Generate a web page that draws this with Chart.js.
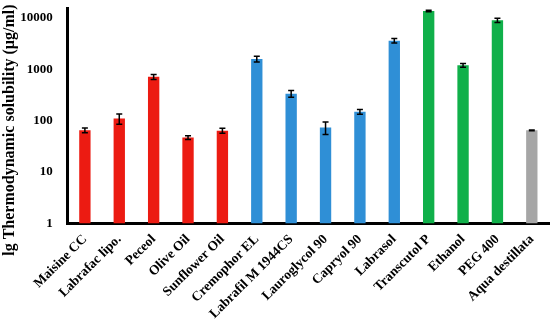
<!DOCTYPE html>
<html>
<head>
<meta charset="utf-8">
<script src="https://cdn.jsdelivr.net/npm/chart.js@4"></script>
<style>
  html, body { margin: 0; padding: 0; background: #fff; }
  #wrap { width: 550px; height: 322px; }
</style>
</head>
<body>
<div id="wrap"><canvas id="solChart"></canvas></div>
<script>
/* ---- Data ---- */
const excipients = [
  "Maisine CC", "Labrafac lipo.", "Peceol", "Olive Oil", "Sunflower Oil",
  "Cremophor EL", "Labrafil M 1944CS", "Lauroglycol 90", "Capryol 90",
  "Labrasol", "Transcutol P", "Ethanol", "PEG 400", "Aqua destillata"
];
const solubility = [65, 110, 715, 47, 64, 1590, 336, 74, 149, 3600, 13600, 1200, 9000, 65];
const solubilityErr = [7, 25, 80, 4, 7, 200, 50, 20, 16, 350, 500, 100, 850, 1];
const yTicks = [1, 10, 100, 1000, 10000];

/* ---- Colours per group ---- */
const palette = {
  oil:     "#ec1b12",
  surf:    "#2f8fd6",
  solvent: "#10b04a",
  water:   "#a6a6a6"
};
const barColors = [
  palette.oil, palette.oil, palette.oil, palette.oil, palette.oil,
  palette.surf, palette.surf, palette.surf, palette.surf, palette.surf,
  palette.solvent, palette.solvent, palette.solvent,
  palette.water
];

const serif = "'Liberation Serif', 'Times New Roman', serif";

// draws the +/- error whiskers on top of each bar
const errorBars = {
  id: "errorBars",
  afterDatasetsDraw(chart) {
    const { ctx, scales: { y } } = chart;
    const meta = chart.getDatasetMeta(0);
    ctx.save();
    ctx.strokeStyle = "#000";
    ctx.lineWidth = 1.5;
    meta.data.forEach((bar, i) => {
      const v = solubility[i], e = solubilityErr[i];
      const top = y.getPixelForValue(v + e);
      const bot = y.getPixelForValue(Math.max(v - e, 1));
      const x = bar.x, cap = 3;
      ctx.beginPath();
      ctx.moveTo(x, top); ctx.lineTo(x, bot);
      ctx.moveTo(x - cap, top); ctx.lineTo(x + cap, top);
      ctx.moveTo(x - cap, bot); ctx.lineTo(x + cap, bot);
      ctx.stroke();
    });
    ctx.restore();
  }
};

new Chart(document.getElementById("solChart"), {
  type: "bar",
  data: {
    labels: excipients,
    datasets: [{
      data: solubility,
      backgroundColor: barColors,
      barPercentage: 0.33,
      categoryPercentage: 1
    }]
  },
  options: {
    responsive: true,
    maintainAspectRatio: false,
    animation: false,
    layout: { padding: { top: 0, right: 1, left: 0, bottom: 0 } },
    plugins: {
      legend: { display: false },
      tooltip: { enabled: false }
    },
    scales: {
      x: {
        grid: { display: false },
        border: { display: true, color: "#000", width: 3 },
        ticks: {
          color: "#000",
          maxRotation: 45,
          minRotation: 45,
          autoSkip: false,
          padding: 0,
          font: { family: serif, size: 13.5, weight: "bold" }
        }
      },
      y: {
        type: "logarithmic",
        min: 1,
        max: 15000,
        afterBuildTicks: axis => {
          axis.ticks = yTicks.map(v => ({ value: v }));
        },
        // invisible tick marks just make the gap between labels and axis
        grid: {
          display: true,
          drawOnChartArea: false,
          drawTicks: true,
          tickLength: 14,
          color: "rgba(0,0,0,0)"
        },
        border: { display: true, color: "#000", width: 3 },
        ticks: {
          color: "#000",
          padding: 1,
          font: { family: serif, size: 13, weight: "bold" },
          callback: v => String(v)
        },
        title: {
          display: true,
          // trailing no-break spaces push the centred title a little lower
          text: "lg Thermodynamic solubility (μg/ml)\u00a0\u00a0\u00a0\u00a0\u00a0\u00a0\u00a0",
          color: "#000",
          padding: { top: 0, bottom: 0 },
          font: { family: serif, size: 16, weight: "bold" }
        }
      }
    }
  },
  plugins: [errorBars]
});
</script>
</body>
</html>
